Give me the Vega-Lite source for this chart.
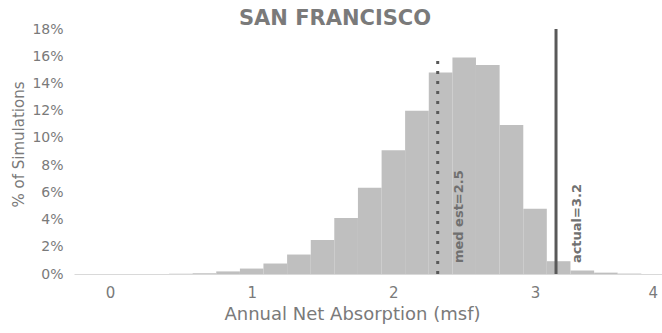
{
  "$schema": "https://vega.github.io/schema/vega-lite/v6.json",
  "autosize": {"type": "none"},
  "padding": {"left": 74, "top": 29, "right": 0, "bottom": 59},
  "width": 588,
  "height": 245,
  "background": "white",
  "config": {
    "view": {"stroke": null},
    "font": "DejaVu Sans",
    "axis": {"labelOverlap": false, "labelSeparation": 0, "ticks": false, "grid": false}
  },
  "title": {
    "text": "SAN FRANCISCO",
    "fontSize": 21,
    "fontWeight": "bold",
    "color": "#7a7a7a",
    "font": "DejaVu Sans",
    "anchor": "middle",
    "baseline": "alphabetic",
    "dx": -33,
    "offset": -24
  },
  "datasets": {
    "bins": [
      {"bin_start": 0.417, "bin_end": 0.583, "pct": 0.0002},
      {"bin_start": 0.583, "bin_end": 0.75, "pct": 0.0006},
      {"bin_start": 0.75, "bin_end": 0.917, "pct": 0.0019},
      {"bin_start": 0.917, "bin_end": 1.083, "pct": 0.004},
      {"bin_start": 1.083, "bin_end": 1.25, "pct": 0.0077},
      {"bin_start": 1.25, "bin_end": 1.417, "pct": 0.0143},
      {"bin_start": 1.417, "bin_end": 1.583, "pct": 0.025},
      {"bin_start": 1.583, "bin_end": 1.75, "pct": 0.0412},
      {"bin_start": 1.75, "bin_end": 1.917, "pct": 0.0633},
      {"bin_start": 1.917, "bin_end": 2.083, "pct": 0.091},
      {"bin_start": 2.083, "bin_end": 2.25, "pct": 0.12},
      {"bin_start": 2.25, "bin_end": 2.417, "pct": 0.148},
      {"bin_start": 2.417, "bin_end": 2.583, "pct": 0.159},
      {"bin_start": 2.583, "bin_end": 2.75, "pct": 0.1535},
      {"bin_start": 2.75, "bin_end": 2.917, "pct": 0.1095},
      {"bin_start": 2.917, "bin_end": 3.083, "pct": 0.048},
      {"bin_start": 3.083, "bin_end": 3.25, "pct": 0.0094},
      {"bin_start": 3.25, "bin_end": 3.417, "pct": 0.0026},
      {"bin_start": 3.417, "bin_end": 3.583, "pct": 0.001},
      {"bin_start": 3.583, "bin_end": 3.75, "pct": 0.0003}
    ],
    "refs": [
      {"x": 2.313, "base": 0, "top": 0.158, "kind": "median", "label": "med est=2.5", "lx": 2.463},
      {"x": 3.148, "base": 0, "top": 0.18, "kind": "actual", "label": "actual=3.2", "lx": 3.294}
    ]
  },
  "encoding": {
    "x": {
      "type": "quantitative",
      "scale": {"domain": [-0.254, 3.896], "nice": false, "zero": false, "padding": 0},
      "axis": {
        "values": [0, 1, 2, 3, 3.83],
        "labelExpr": "datum.value > 3.5 ? '4' : datum.label",
        "format": "d",
        "title": "Annual Net Absorption (msf)",
        "titleFontSize": 18,
        "titleFontWeight": "normal",
        "titleColor": "#7a7a7a",
        "titlePadding": 5,
        "titleX": 278,
        "titleAlign": "center",
        "labelFontSize": 15,
        "labelFontWeight": "normal",
        "labelColor": "#7a7a7a",
        "labelPadding": 11,
        "labelOverlap": false,
        "ticks": false,
        "grid": false,
        "domainColor": "#d9d9d9",
        "domainWidth": 1
      }
    },
    "y": {
      "type": "quantitative",
      "scale": {"domain": [0, 0.18], "nice": false, "zero": true, "padding": 0},
      "axis": {
        "values": [0, 0.02, 0.04, 0.06, 0.08, 0.1, 0.12, 0.14, 0.16, 0.18],
        "format": ".0%",
        "title": "% of Simulations",
        "titleFontSize": 15,
        "titleFontWeight": "normal",
        "titleColor": "#7a7a7a",
        "titleX": -56,
        "titleY": 115,
        "titleAlign": "center",
        "titleBaseline": "middle",
        "titleAngle": -90,
        "labelFontSize": 14,
        "labelFontWeight": "normal",
        "labelColor": "#7a7a7a",
        "labelPadding": 11,
        "labelOverlap": false,
        "ticks": false,
        "grid": false,
        "domain": false
      }
    }
  },
  "layer": [
    {
      "data": {"name": "bins"},
      "mark": {"type": "bar", "color": "#bfbfbf", "orient": "vertical"},
      "encoding": {
        "x": {"field": "bin_start", "type": "quantitative"},
        "x2": {"field": "bin_end"},
        "y": {"field": "pct", "type": "quantitative"}
      }
    },
    {
      "data": {"name": "refs"},
      "transform": [{"filter": "datum.kind == 'median'"}],
      "mark": {"type": "rule", "color": "#595959", "strokeWidth": 3, "strokeDash": [3, 7]},
      "encoding": {
        "x": {"field": "x", "type": "quantitative"},
        "y": {"field": "base", "type": "quantitative"},
        "y2": {"field": "top"}
      }
    },
    {
      "data": {"name": "refs"},
      "transform": [{"filter": "datum.kind == 'actual'"}],
      "mark": {"type": "rule", "color": "#595959", "strokeWidth": 3},
      "encoding": {
        "x": {"field": "x", "type": "quantitative"},
        "y": {"field": "base", "type": "quantitative"},
        "y2": {"field": "top"}
      }
    },
    {
      "data": {"name": "refs"},
      "mark": {"type": "text", "angle": 270, "align": "left", "baseline": "middle", "fontSize": 13, "fontWeight": "bold", "color": "#707070", "font": "DejaVu Sans"},
      "encoding": {
        "x": {"field": "lx", "type": "quantitative"},
        "y": {"datum": 0.008, "type": "quantitative"},
        "text": {"field": "label"}
      }
    }
  ]
}
